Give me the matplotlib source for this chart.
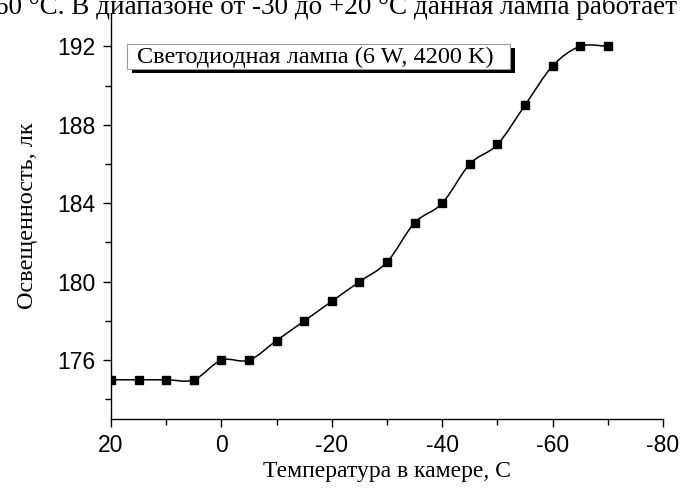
import numpy as np
import matplotlib.pyplot as plt
from matplotlib.path import Path
from matplotlib.patches import PathPatch, Rectangle

# данные
temperature = [20, 15, 10, 5, 0, -5, -10, -15, -20, -25, -30, -35, -40, -45, -50, -55, -60, -65, -70]
illuminance = [175, 175, 175, 175, 176, 176, 177, 178, 179, 180, 181, 183, 184, 186, 187, 189, 191, 192, 192]
legend_label = 'Светодиодная лампа (6 W, 4200 K)'
x_ticks = [20, 0, -20, -40, -60, -80]
y_ticks = [176, 180, 184, 188, 192]

plt.rcParams['axes.unicode_minus'] = False
serif = ['Liberation Serif', 'DejaVu Serif']
sans = ['Liberation Sans', 'DejaVu Sans']

W, H = 683, 496
fig = plt.figure(figsize=(W / 100, H / 100), dpi=100)
ax = fig.add_axes([111 / W, 1 - 419 / H, 552 / W, 406 / H])

# гладкая кривая через точки (Catmull-Rom -> кубические Безье)
x = np.array(temperature, dtype=float)
y = np.array(illuminance, dtype=float)
verts = [(x[0], y[0])]
codes = [Path.MOVETO]
for i in range(len(x) - 1):
    i0 = max(i - 1, 0)
    i3 = min(i + 2, len(x) - 1)
    c1 = (x[i] + (x[i + 1] - x[i0]) / 6, y[i] + (y[i + 1] - y[i0]) / 6)
    c2 = (x[i + 1] - (x[i3] - x[i]) / 6, y[i + 1] - (y[i3] - y[i]) / 6)
    verts += [c1, c2, (x[i + 1], y[i + 1])]
    codes += [Path.CURVE4] * 3
ax.add_patch(PathPatch(Path(verts, codes), facecolor='none', edgecolor='black', lw=1.1, zorder=2))
ax.plot(temperature, illuminance, linestyle='none', marker='s', ms=6, color='black', zorder=3)

ax.set_xlim(20, -80)
ax.set_ylim(173, 193.7)
ax.set_xticks(x_ticks)
ax.set_yticks(y_ticks)
ax.set_xticks(np.arange(10, -80, -20), minor=True)
ax.set_yticks(np.arange(174, 194, 4), minor=True)
for side in ['top', 'right']:
    ax.spines[side].set_visible(False)
for side in ['left', 'bottom']:
    ax.spines[side].set_linewidth(1.0)
ax.tick_params(which='major', direction='out', length=6, width=1, labelsize=16.5, pad=5)
ax.tick_params(which='minor', direction='out', length=4, width=1)
for lab in ax.get_xticklabels() + ax.get_yticklabels():
    lab.set_family(sans)

ax.set_xlabel('Температура в камере, С', family=serif, fontsize=17, labelpad=3)
ax.set_ylabel('Освещенность, лк', family=serif, fontsize=17.5, labelpad=14)

# рамка легенды с тенью
fig.patches.append(Rectangle((132 / W, 1 - 73 / H), 383 / W, 25 / H, transform=fig.transFigure,
                             facecolor='black', edgecolor='none', zorder=5))
fig.patches.append(Rectangle((127 / W, 1 - 69 / H), 383 / W, 25 / H, transform=fig.transFigure,
                             facecolor='white', edgecolor='#999999', lw=0.8, zorder=6))
fig.text(137 / W, 1 - 63.5 / H, legend_label, family=serif, fontsize=17.5, va='baseline', ha='left', zorder=7)

# обрезанная строка текста документа сверху
fig.text(-14 / W, 1 - 14 / H, '-60 °C. В диапазоне от -30 до +20 °С данная лампа работает',
         family=serif, fontsize=19.5, va='baseline', ha='left')

fig.savefig('out.png', dpi=100)
